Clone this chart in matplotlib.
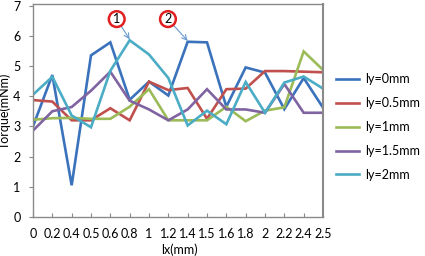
import matplotlib
matplotlib.use('Agg')
import matplotlib.pyplot as plt

plt.rcParams['font.family'] = ['Lato', 'DejaVu Sans']

# categories on the x axis (equally spaced, as in the original sheet)
lx_labels = ['0', '0.2', '0.4', '0.5', '0.6', '0.8', '1', '1.2', '1.4', '1.5',
             '1.6', '1.8', '2', '2.2', '2.4', '2.5']

ly0 = [3.0, 4.7, 1.05, 5.35, 5.78, 3.88, 4.48, 4.02, 5.8, 5.78, 3.65, 4.95, 4.78, 3.57, 4.6, 3.62]
ly05 = [3.87, 3.82, 3.2, 3.2, 3.6, 3.2, 4.48, 4.2, 4.27, 3.25, 4.23, 4.25, 4.83, 4.83, 4.81, 4.79]
ly1 = [3.22, 3.27, 3.28, 3.25, 3.25, 3.65, 4.23, 3.2, 3.2, 3.2, 3.65, 3.17, 3.52, 3.63, 5.48, 4.87]
ly15 = [2.86, 3.5, 3.64, 4.18, 4.81, 3.85, 3.56, 3.2, 3.56, 4.23, 3.56, 3.56, 3.45, 4.4, 3.45, 3.45]
ly2 = [4.05, 4.64, 3.36, 2.97, 4.84, 5.85, 5.38, 4.6, 3.03, 3.52, 3.07, 4.47, 3.45, 4.45, 4.65, 4.25]

series = [('ly=0mm', ly0, '#3A72BC'),
          ('ly=0.5mm', ly05, '#C0504D'),
          ('ly=1mm', ly1, '#9BBB59'),
          ('ly=1.5mm', ly15, '#8064A2'),
          ('ly=2mm', ly2, '#4BACC6')]

FS = 9

fig = plt.figure(figsize=(4.25, 2.56), dpi=100)
ax = fig.add_axes([33 / 425, 39 / 256, 290 / 425, 213 / 256])

x = list(range(len(lx_labels)))
for name, vals, col in series:
    ax.plot(x, vals, color=col, lw=1.9, label=name, solid_joinstyle='miter')

ax.set_xlim(0, len(lx_labels) - 1)
ax.set_ylim(0, 7.05)
ax.set_xticks(x)
ax.set_xticklabels(lx_labels)
ax.set_yticks(range(8))
ax.tick_params(axis='x', direction='in', length=3, color='#888888', labelsize=FS, pad=8)
ax.tick_params(axis='y', direction='out', length=3, color='#888888', labelsize=FS, pad=6)
for s in ax.spines.values():
    s.set_color('#8a8a8a')
    s.set_linewidth(1.0)
ax.spines['right'].set_linewidth(1.5)

ax.set_xlabel('lx(mm)', fontsize=FS)
ax.set_ylabel('Torque(mNm)', fontsize=FS, va='center')
ax.xaxis.set_label_coords(146 / 290, -26 / 213)
ax.yaxis.set_label_coords(-28 / 290, 0.5)

# circled markers with arrows
for txt, xy, xt in [('1', (5, ly2[5]), (4.33, 6.55)), ('2', (8, ly0[8]), (6.98, 6.55))]:
    ax.annotate(txt, xy=(xy[0], xy[1] + 0.03), xytext=xt, fontsize=FS,
                ha='center', va='center',
                bbox=dict(boxstyle='circle,pad=0.15', fc='white', ec='#E02020', lw=1.8),
                arrowprops=dict(arrowstyle='->', color='#6A9AD0', lw=0.8,
                                shrinkA=0, shrinkB=0))

fig.legend(loc='center left', bbox_to_anchor=(336 / 425, 129 / 256), frameon=False,
           fontsize=FS, handlelength=1.85, handletextpad=0.45, labelspacing=0.95,
           borderaxespad=0, borderpad=0)

fig.savefig('out.png', dpi=100)
